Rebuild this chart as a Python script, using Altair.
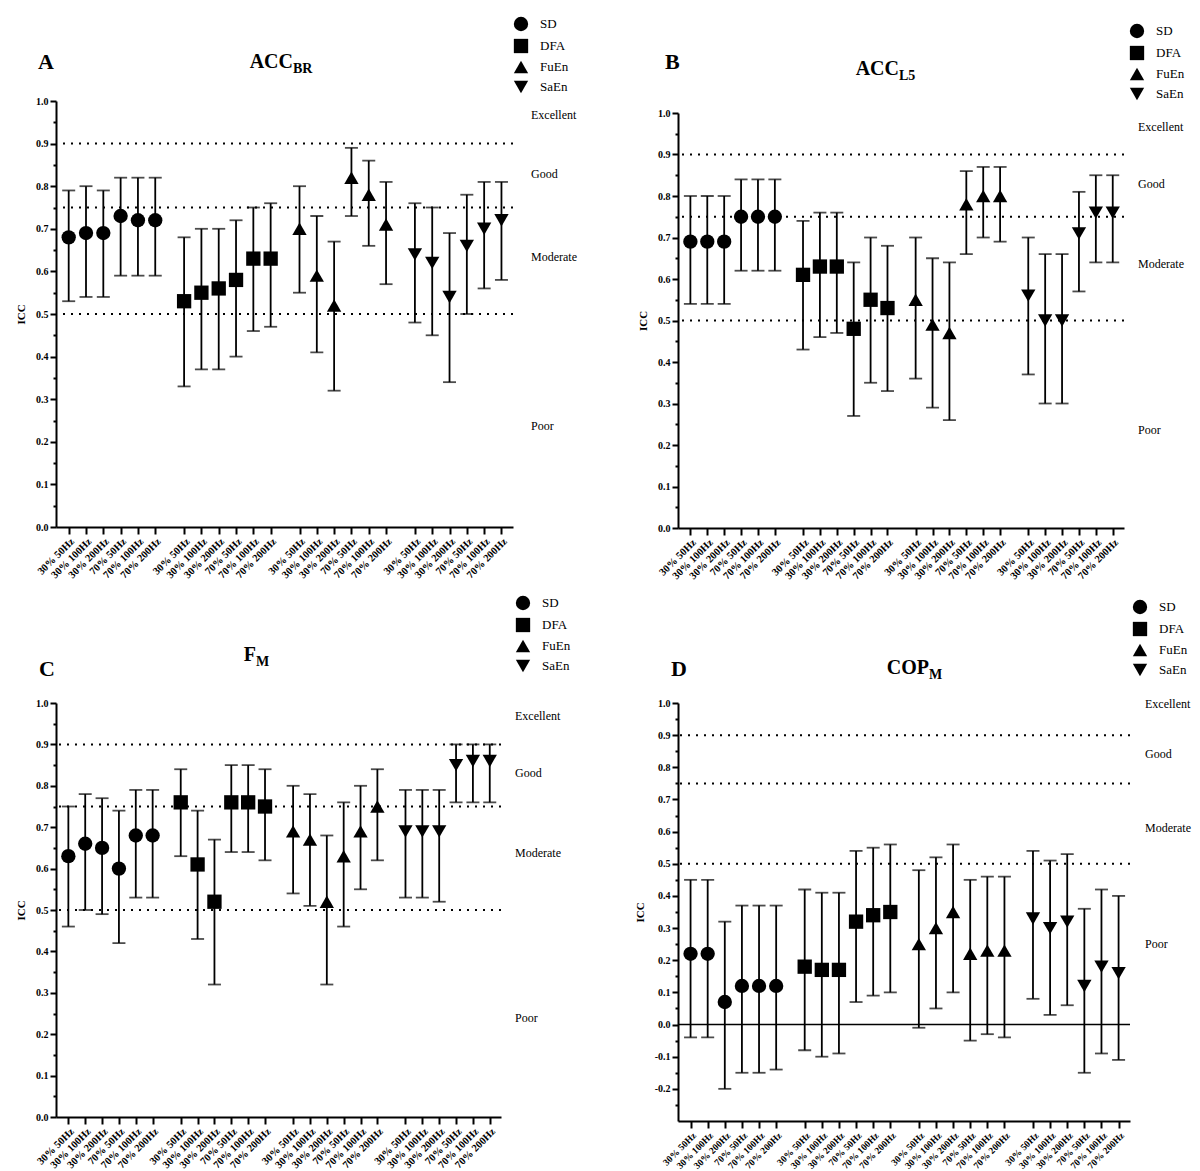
import altair as alt
import pandas as pd

CONDITIONS = ["30% 50Hz", "30% 100Hz", "30% 200Hz", "70% 50Hz", "70% 100Hz", "70% 200Hz"]
METHODS = ["SD", "DFA", "FuEn", "SaEn"]
SHAPES = ["circle", "square", "triangle-up", "triangle-down"]
LEVELS = ["Excellent", "Good", "Moderate", "Poor"]
THRESHOLDS = [0.5, 0.75, 0.9]

# Panel A: ACC_BR
ACCBR_ICC = [0.68, 0.69, 0.69, 0.73, 0.72, 0.72, 0.53, 0.55, 0.56, 0.58, 0.63, 0.63,
             0.70, 0.59, 0.52, 0.82, 0.78, 0.71, 0.64, 0.62, 0.54, 0.66, 0.70, 0.72]
ACCBR_LO = [0.53, 0.54, 0.54, 0.59, 0.59, 0.59, 0.33, 0.37, 0.37, 0.40, 0.46, 0.47,
            0.55, 0.41, 0.32, 0.73, 0.66, 0.57, 0.48, 0.45, 0.34, 0.50, 0.56, 0.58]
ACCBR_HI = [0.79, 0.80, 0.79, 0.82, 0.82, 0.82, 0.68, 0.70, 0.70, 0.72, 0.75, 0.76,
            0.80, 0.73, 0.67, 0.89, 0.86, 0.81, 0.76, 0.75, 0.69, 0.78, 0.81, 0.81]
# Panel B: ACC_L5
ACCL5_ICC = [0.69, 0.69, 0.69, 0.75, 0.75, 0.75, 0.61, 0.63, 0.63, 0.48, 0.55, 0.53,
             0.55, 0.49, 0.47, 0.78, 0.80, 0.80, 0.56, 0.50, 0.50, 0.71, 0.76, 0.76]
ACCL5_LO = [0.54, 0.54, 0.54, 0.62, 0.62, 0.62, 0.43, 0.46, 0.47, 0.27, 0.35, 0.33,
            0.36, 0.29, 0.26, 0.66, 0.70, 0.69, 0.37, 0.30, 0.30, 0.57, 0.64, 0.64]
ACCL5_HI = [0.80, 0.80, 0.80, 0.84, 0.84, 0.84, 0.74, 0.76, 0.76, 0.64, 0.70, 0.68,
            0.70, 0.65, 0.64, 0.86, 0.87, 0.87, 0.70, 0.66, 0.66, 0.81, 0.85, 0.85]
# Panel C: F_M
FM_ICC = [0.63, 0.66, 0.65, 0.60, 0.68, 0.68, 0.76, 0.61, 0.52, 0.76, 0.76, 0.75,
          0.69, 0.67, 0.52, 0.63, 0.69, 0.75, 0.69, 0.69, 0.69, 0.85, 0.86, 0.86]
FM_LO = [0.46, 0.50, 0.49, 0.42, 0.53, 0.53, 0.63, 0.43, 0.32, 0.64, 0.64, 0.62,
         0.54, 0.51, 0.32, 0.46, 0.55, 0.62, 0.53, 0.53, 0.52, 0.76, 0.76, 0.76]
FM_HI = [0.75, 0.78, 0.77, 0.74, 0.79, 0.79, 0.84, 0.74, 0.67, 0.85, 0.85, 0.84,
         0.80, 0.78, 0.68, 0.76, 0.80, 0.84, 0.79, 0.79, 0.79, 0.90, 0.90, 0.90]
# Panel D: COP_M
COPM_ICC = [0.22, 0.22, 0.07, 0.12, 0.12, 0.12, 0.18, 0.17, 0.17, 0.32, 0.34, 0.35,
            0.25, 0.30, 0.35, 0.22, 0.23, 0.23, 0.33, 0.30, 0.32, 0.12, 0.18, 0.16]
COPM_LO = [-0.04, -0.04, -0.20, -0.15, -0.15, -0.14, -0.08, -0.10, -0.09, 0.07, 0.09, 0.10,
           -0.01, 0.05, 0.10, -0.05, -0.03, -0.04, 0.08, 0.03, 0.06, -0.15, -0.09, -0.11]
COPM_HI = [0.45, 0.45, 0.32, 0.37, 0.37, 0.37, 0.42, 0.41, 0.41, 0.54, 0.55, 0.56,
           0.48, 0.52, 0.56, 0.45, 0.46, 0.46, 0.54, 0.51, 0.53, 0.36, 0.42, 0.40]

SERIF = "Liberation Serif"
LABELS_JS = "[" + ",".join("'" + c + "'" for c in CONDITIONS) + "]"
MINOR_TEST = "abs(datum.value*10 - round(datum.value*10)) > 0.01"


def make_df(icc, lo, hi):
    rows = []
    for g, m in enumerate(METHODS):
        for i, c in enumerate(CONDITIONS):
            k = g * 6 + i
            rows.append({"pos": 20 * g + 3 * i, "method": m, "cond": c,
                         "icc": icc[k], "lo": lo[k], "hi": hi[k]})
    return pd.DataFrame(rows)


def panel(icc, lo, hi, w, h, top, ydom, tick0, letter, tmain, tsub, tpos, lpos, legpos,
          lvl_y, lvl_dx, zero_line=False, xlab_size=10.5):
    """top: offset of the plot's upper edge inside the view (shifts the whole panel)."""
    df = make_df(icc, lo, hi)
    n0 = int(round(tick0 / 0.05))
    yticks = [round(v * 0.05, 2) for v in range(n0, 21)]
    xsc = alt.Scale(domain=[-2.2, 77], nice=False, zero=False)
    ysc = alt.Scale(domain=ydom, nice=False, zero=False, range=[top + h, top])
    xax = alt.Axis(values=[20 * g + 3 * i for g in range(4) for i in range(6)],
                   labelExpr=LABELS_JS + "[round((datum.value % 20) / 3)]",
                   labelAngle=-45, labelFont=SERIF, labelFontSize=xlab_size,
                   labelFontWeight="bold", tickSize=7, tickWidth=2,
                   domainWidth=2, grid=False, labelPadding=2, labelOverlap=False,
                   labelBound=False)
    yax = alt.Axis(values=yticks,
                   labelExpr=MINOR_TEST + " ? '' : replace(format(datum.value, '.1f'), '\u2212', '-')",
                   tickSize={"condition": {"test": MINOR_TEST, "value": 3}, "value": 6},
                   tickWidth=2, domainWidth=2, grid=False, labelFont=SERIF,
                   labelFontSize=10, labelFontWeight="bold", labelPadding=2,
                   labelOverlap=False, titleFont=SERIF, titleFontSize=11,
                   titleFontWeight="bold", titlePadding=9)
    X = alt.X("pos:Q", scale=xsc, axis=xax, title=None)

    def Y(f):
        return alt.Y(f, scale=ysc, axis=yax, title="ICC")

    layers = []
    layers.append(alt.Chart(pd.DataFrame({"v": THRESHOLDS})).mark_rule(
        strokeDash=[2, 6], strokeWidth=2, color="black").encode(y=Y("v:Q")))
    if zero_line:
        layers.append(alt.Chart(pd.DataFrame({"v": [0.0]})).mark_rule(
            strokeWidth=1.5, color="black").encode(y=Y("v:Q")))
    base = alt.Chart(df)
    layers.append(base.mark_rule(strokeWidth=1.8, color="black").encode(
        x=X, y=Y("lo:Q"), y2="hi:Q"))
    layers.append(base.mark_tick(orient="horizontal", size=13, thickness=1.8,
                                 color="black").encode(x=X, y=Y("lo:Q")))
    layers.append(base.mark_tick(orient="horizontal", size=13, thickness=1.8,
                                 color="black").encode(x=X, y=Y("hi:Q")))
    layers.append(base.mark_point(filled=True, opacity=1, color="black", size=205).encode(
        x=X, y=Y("icc:Q"),
        shape=alt.Shape("method:N", scale=alt.Scale(domain=METHODS, range=SHAPES),
                        legend=alt.Legend(orient="none", legendX=legpos[0] - 7,
                                          legendY=top + legpos[1] - 7, title=None,
                                          labelFont=SERIF, labelFontSize=13,
                                          symbolSize=205, symbolFillColor="black",
                                          symbolStrokeColor="black", rowPadding=0,
                                          labelOffset=11, padding=0))))
    layers.append(alt.Chart(pd.DataFrame({"lvl": LEVELS, "y": lvl_y})).mark_text(
        align="left", baseline="middle", font=SERIF, fontSize=12, color="black").encode(
        x=alt.value(w + lvl_dx), y=Y("y:Q"), text="lvl:N"))
    layers.append(alt.Chart(pd.DataFrame({"t": [tmain]})).mark_text(
        align="right", baseline="alphabetic", font=SERIF, fontSize=20,
        fontWeight="bold", color="black").encode(
        x=alt.value(tpos[0]), y=alt.value(top + tpos[1]), text="t:N"))
    layers.append(alt.Chart(pd.DataFrame({"t": [tsub]})).mark_text(
        align="left", baseline="alphabetic", font=SERIF, fontSize=14,
        fontWeight="bold", color="black").encode(
        x=alt.value(tpos[0]), y=alt.value(top + tpos[1] + 5), text="t:N"))
    layers.append(alt.Chart(pd.DataFrame({"t": [letter]})).mark_text(
        align="left", baseline="alphabetic", font=SERIF, fontSize=22,
        fontWeight="bold", color="black").encode(
        x=alt.value(lpos[0]), y=alt.value(top + lpos[1]), text="t:N"))
    return alt.layer(*layers).properties(width=w, height=top + h)


pA = panel(ACCBR_ICC, ACCBR_LO, ACCBR_HI, 457, 426, 0, [0, 1], 0.0, "A", "ACC", "BR",
           (237, -33), (-18, -32), (464, -78), [0.967, 0.829, 0.634, 0.237], 18)
pB = panel(ACCL5_ICC, ACCL5_LO, ACCL5_HI, 446, 415, 12, [0, 1], 0.0, "B", "ACC", "L5",
           (221, -38), (-13, -44), (458, -83), [0.966, 0.829, 0.636, 0.236], 14)
pC = panel(FM_ICC, FM_LO, FM_HI, 445, 414, 0, [0, 1], 0.0, "C", "F", "M",
           (200, -42), (-17, -27), (466, -101), [0.969, 0.831, 0.638, 0.239], 14)
pD = panel(COPM_ICC, COPM_LO, COPM_HI, 452, 418, 0, [-0.3, 1], -0.25, "D", "COP", "M",
           (251, -29), (-7, -27), (461, -97), [0.997, 0.84, 0.61, 0.25], 15,
           zero_line=True, xlab_size=9.5)

chart = alt.concat(
    pA, pB, pC, pD, columns=2, bounds="flush",
    spacing=alt.RowColnumber(row=175, column=165)
).resolve_scale(shape="independent").resolve_legend(shape="independent").properties(
    padding={"left": 15, "top": 15, "right": 5, "bottom": 0},
    background="white"
).configure_view(stroke="transparent").configure_axis(
    domainColor="black", tickColor="black", labelColor="black", titleColor="black")

chart.save("out.html", embed_options={"renderer": "svg", "actions": False})
